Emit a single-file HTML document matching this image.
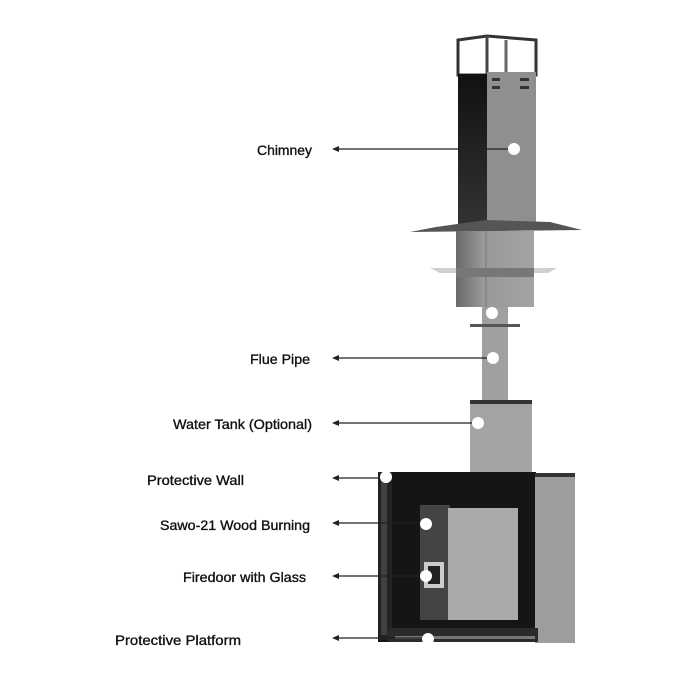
<!DOCTYPE html>
<html><head><style>html,body{margin:0;padding:0;background:#fff}svg{display:block}text{font-family:"Liberation Sans Narrow","Liberation Sans",sans-serif;font-size:14px;fill:#111;stroke:#111;stroke-width:0.35}</style></head>
<body>
<svg width="692" height="692" viewBox="0 0 692 692" xmlns="http://www.w3.org/2000/svg">
<defs>
<linearGradient id="dk" x1="0" y1="0" x2="0" y2="1"><stop offset="0" stop-color="#111"/><stop offset="1" stop-color="#333"/></linearGradient>
<linearGradient id="lo" x1="0" y1="0" x2="1" y2="0"><stop offset="0" stop-color="#6a6a6a"/><stop offset="0.35" stop-color="#999"/><stop offset="1" stop-color="#a3a3a3"/></linearGradient>
</defs>
<path d="M458 40 L487 36 L536 40 L536 75 L458 75 Z" fill="#fff" stroke="#333" stroke-width="3"/>
<line x1="487" y1="36" x2="487" y2="75" stroke="#444" stroke-width="3"/>
<line x1="506" y1="40" x2="506" y2="74" stroke="#666" stroke-width="3"/>
<rect x="458" y="74" width="29" height="152" fill="url(#dk)"/>
<rect x="487" y="72" width="49" height="154" fill="#8e8f91"/>
<rect x="492" y="78" width="8" height="3" fill="#333"/><rect x="520" y="78" width="9" height="3" fill="#333"/>
<rect x="492" y="86" width="8" height="3" fill="#333"/><rect x="520" y="86" width="9" height="3" fill="#333"/>
<path d="M436 227 L486 220 L550 222 L582 230 L410 232 Z" fill="#555"/>
<rect x="456" y="231" width="78" height="76" fill="url(#lo)"/>
<line x1="486" y1="231" x2="486" y2="307" stroke="#777"/>
<path d="M430 268 L557 268 L548 273 L440 273 Z" fill="#bbb" opacity="0.7"/>
<rect x="456" y="268" width="78" height="9" fill="#777"/>
<rect x="482" y="307" width="26" height="95" fill="#9fa0a2"/>
<rect x="470" y="324" width="50" height="3" fill="#555"/>
<rect x="470" y="402" width="62" height="78" fill="#a2a3a5"/>
<rect x="470" y="400" width="62" height="4" fill="#333"/>
<rect x="378" y="472" width="158" height="170" fill="#151515"/>
<rect x="378" y="472" width="14" height="168" fill="#222"/>
<rect x="381" y="475" width="6" height="160" fill="#555" opacity="0.6"/>
<rect x="535" y="475" width="40" height="168" fill="#9c9d9f"/>
<rect x="535" y="473" width="40" height="4" fill="#333"/>
<rect x="420" y="505" width="30" height="115" fill="#444"/>
<rect x="448" y="508" width="70" height="112" fill="#a9aaac"/>
<rect x="424" y="562" width="20" height="26" fill="#ccc"/><rect x="428" y="566" width="12" height="18" fill="#222"/>
<rect x="388" y="628" width="150" height="14" fill="#2a2a2a"/>
<rect x="395" y="636" width="140" height="3" fill="#777"/>
<g fill="#fff"><circle cx="514" cy="149" r="6"/><circle cx="492" cy="313" r="6"/><circle cx="493" cy="358" r="6"/><circle cx="478" cy="423" r="6"/><circle cx="386" cy="477" r="6"/><circle cx="426" cy="524" r="6"/><circle cx="426" cy="576" r="6"/><circle cx="428" cy="639" r="6"/></g>
<g stroke="#222" stroke-width="1.2">
<line x1="336" y1="149" x2="508" y2="149"/><line x1="336" y1="358" x2="487" y2="358"/><line x1="336" y1="423" x2="472" y2="423"/><line x1="336" y1="478" x2="380" y2="478"/><line x1="336" y1="523" x2="420" y2="523"/><line x1="336" y1="576" x2="420" y2="576"/><line x1="336" y1="638" x2="422" y2="638"/>
</g>
<g fill="#222">
<path d="M332 149 l7 -3 v6z"/><path d="M332 358 l7 -3 v6z"/><path d="M332 423 l7 -3 v6z"/><path d="M332 478 l7 -3 v6z"/><path d="M332 523 l7 -3 v6z"/><path d="M332 576 l7 -3 v6z"/><path d="M332 638 l7 -3 v6z"/>
</g>
<text x="312" y="155" text-anchor="end" textLength="55" lengthAdjust="spacingAndGlyphs">Chimney</text>
<text x="310" y="364" text-anchor="end" textLength="60" lengthAdjust="spacingAndGlyphs">Flue Pipe</text>
<text x="312" y="429" text-anchor="end" textLength="139" lengthAdjust="spacingAndGlyphs">Water Tank (Optional)</text>
<text x="147" y="485" textLength="97" lengthAdjust="spacingAndGlyphs">Protective Wall</text>
<text x="310" y="530" text-anchor="end" textLength="150" lengthAdjust="spacingAndGlyphs">Sawo-21 Wood Burning</text>
<text x="306" y="582" text-anchor="end" textLength="123" lengthAdjust="spacingAndGlyphs">Firedoor with Glass</text>
<text x="115" y="645" textLength="126" lengthAdjust="spacingAndGlyphs">Protective Platform</text>
</svg>
</body></html>
